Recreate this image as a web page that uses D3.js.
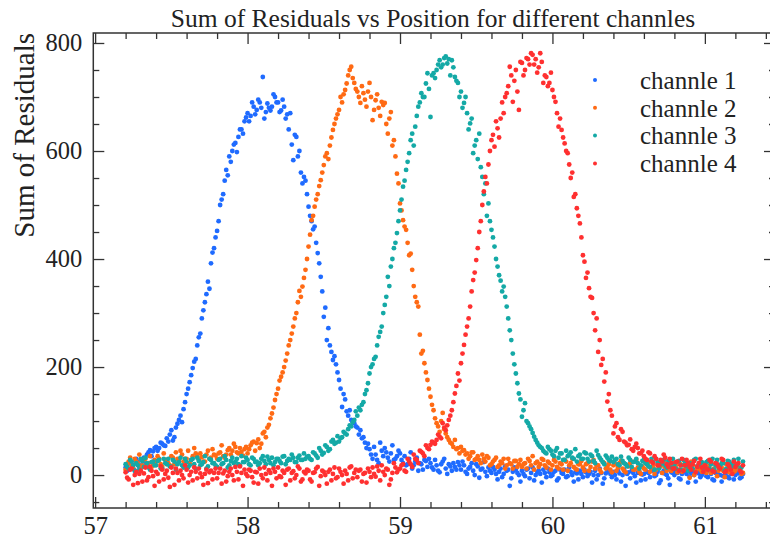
<!DOCTYPE html>
<html><head><meta charset="utf-8">
<script src="https://cdn.jsdelivr.net/npm/d3@7"></script>
<style>
body{margin:0;background:#fff}
text{font-family:"Liberation Serif","Times New Roman",serif;fill:#222}
</style>
</head><body><svg id="c" width="770" height="540"></svg>
<script>
// ---- data ----
// two interleaved sample sets per channel: set A starts at 57.20, set B at 57.21, both every 0.02
const xStartA = 57.20, xStartB = 57.21, xStep = 0.02;
const seriesNames = ["channle 1", "channle 2", "channle 3", "channle 4"];
const seriesColors = ["#1f6bff", "#ff6a14", "#14a9a6", "#ff3030"];
const xTicks = [57, 58, 59, 60, 61];
const yTicks = [0, 200, 400, 600, 800];

const channle1A = [
14,10,20,8,25,18,32,38,46,44,
52,50,58,54,62,83,70,95,110,122,
150,172,198,215,255,290,320,358,392,420,
452,500,520,565,590,600,615,626,640,655,
670,665,682,676,690,737,672,680,682,700,
690,675,682,668,670,583,626,600,540,545,
497,470,460,411,367,293,250,240,213,205,
176,126,140,110,102,96,88,83,70,50,
48,30,38,22,45,50,32,40,28,35,
40,22,18,30,12,25,8,20,28,15,
22,10,18,5,25,12,20,8,15,24,
10,18,2,15,8,20,-5,12,6,14,
4,10,-8,12,2,8,-20,6,10,0,
8,-2,12,4,-10,6,2,10,-4,5,
0,8,-6,4,10,-2,6,-12,3,8,
-4,5,2,-14,8,0,4,-6,10,2,
6,-8,3,0,-20,5,8,-2,4,-10,
2,6,-4,8,0,-15,4,2,-6,5,
0,4,-8,6,2,-3,8,-12,3,0,
5,-4,2,-10,6,0,-2,4,-6,2,
0,3,-4];
const channle1B = [
8,22,12,30,15,26,20,42,35,50,
45,60,55,68,75,64,88,102,98,135,
160,185,210,240,262,305,335,345,412,440,
470,510,545,555,580,612,598,640,632,662,
655,690,668,695,680,660,688,675,705,690,
672,695,660,640,612,630,590,560,552,520,
480,455,430,392,340,310,272,228,220,190,
160,150,118,120,98,90,75,68,60,58,
38,52,28,60,35,42,25,55,30,45,
28,35,20,42,18,32,22,10,26,30,
14,28,8,20,30,2,16,22,10,18,
25,6,12,22,0,16,10,24,-2,8,
15,2,6,-4,16,10,-6,14,4,-12,
2,10,-6,14,0,8,-14,4,12,-2,
6,-10,10,2,-4,14,0,5,-8,2,
10,-2,6,0,-8,12,-16,3,7,-4,
0,8,-12,10,2,-6,4,-14,6,1,
-8,4,10,-2,6,-10,8,0,-18,4,
6,-6,2,10,-14,4,0,6,-4,8,
-2,8,-8,4,0,-12,6,-4,2,-8,
4,-6,2];
const channle2A = [
10,25,18,30,22,15,28,20,35,18,
25,30,15,28,22,35,20,30,45,25,
30,22,35,40,28,33,25,45,32,38,
30,42,35,38,50,45,52,40,43,48,
40,55,62,59,50,77,70,93,114,139,
160,182,200,225,250,275,300,341,349,380,
423,472,497,520,546,574,596,610,639,660,
676,690,713,740,756,726,710,689,707,682,
726,657,694,680,691,689,632,672,620,558,
503,472,454,407,380,330,312,225,207,176,
145,120,96,80,115,77,65,58,65,50,
52,46,40,35,42,30,28,38,25,32,
20,28,15,25,30,18,22,12,26,20,
15,22,30,18,10,25,20,28,14,22,
18,25,12,20,28,8,22,15,10,20,
14,20,8,25,12,18,5,22,15,10,
18,8,22,12,5,16,25,10,14,2,
12,20,6,15,10,22,4,14,18,8,
15,5,20,10,12,-5,18,8,14,6,
10,16,4,12,-2,15,8,20,5,12,
8,14,2];
const channle2B = [
20,32,12,25,38,18,30,22,15,28,
35,20,40,28,18,32,42,26,38,30,
45,28,50,35,40,25,38,30,48,36,
40,55,32,46,38,58,42,50,36,52,
48,60,45,66,58,80,88,105,125,150,
175,190,212,240,262,290,320,330,365,400,
445,480,510,535,560,590,585,625,650,668,
700,705,725,750,735,715,700,720,695,710,
700,676,705,665,685,650,660,610,590,540,
490,460,430,410,350,320,260,230,190,160,
130,105,90,100,85,70,60,52,48,40,
45,38,30,42,28,35,22,30,35,18,
25,32,18,22,12,30,20,26,15,28,
20,12,26,35,22,15,30,18,25,10,
28,15,22,10,25,18,30,12,20,26,
8,22,15,28,18,10,24,12,20,5,
20,14,26,8,18,22,10,28,6,16,
10,24,14,2,20,16,26,8,12,22,
18,10,6,22,14,25,0,16,10,20,
4,18,10,22,8,14,-4,12,20,6,
16,10,4];
const channle3A = [
20,12,25,8,18,30,15,22,10,25,
18,28,12,22,30,15,25,20,32,14,
24,18,30,12,26,20,35,16,28,22,
15,30,22,28,18,32,25,20,35,24,
28,18,30,25,22,35,20,28,32,24,
30,22,35,26,28,32,24,36,28,30,
35,28,40,32,45,41,52,48,65,60,
62,70,77,85,90,102,110,120,135,157,
188,205,219,256,275,315,367,386,420,448,
490,534,565,596,632,645,682,707,700,744,
663,744,750,768,760,775,770,768,737,726,
710,689,670,651,596,620,632,552,540,503,
454,423,386,360,349,312,268,225,188,151,
108,133,96,85,71,60,52,45,40,48,
38,45,32,40,28,35,42,30,25,38,
30,40,25,35,22,37,28,20,32,26,
24,30,18,26,20,32,15,25,22,18,
28,20,15,24,30,12,22,18,26,14,
20,25,10,28,16,22,12,30,18,24,
15,26,20,10,28,18,22,12,25,16,
20,30,14];
const channle3B = [
15,28,18,22,10,26,32,14,24,18,
26,12,30,20,16,28,10,24,18,30,
14,28,20,32,18,24,12,30,22,18,
28,20,35,14,26,22,30,18,24,32,
20,32,24,18,30,26,34,22,18,30,
26,34,20,30,38,24,32,28,40,34,
30,42,36,50,38,55,45,62,58,72,
68,80,75,92,98,118,125,130,150,170,
200,215,240,265,300,330,350,400,430,470,
510,545,580,620,610,665,690,700,725,715,
740,735,760,755,772,762,740,755,730,700,
680,700,640,660,610,585,570,520,480,470,
440,400,370,340,330,290,250,205,170,140,
120,100,90,78,65,55,50,42,52,45,
35,50,40,28,45,38,32,48,35,30,
42,30,38,26,45,32,24,36,28,34,
28,20,34,22,16,28,24,30,12,26,
22,16,30,10,24,20,28,14,22,30,
12,26,18,24,8,20,28,16,22,14,
24,12,30,18,14,22,8,26,20,28,
18,10,25];
const channle4A = [
5,-8,12,0,-15,8,3,-10,15,-2,
6,-12,10,2,-5,14,-18,4,8,-6,
10,0,-10,6,12,-4,2,-15,8,4,
-6,12,3,-12,6,0,15,-8,4,10,
-2,8,-14,5,12,-6,2,9,-20,6,
14,-4,4,10,-10,7,0,12,-8,3,
8,-12,5,15,-2,6,-16,10,2,-6,
12,0,8,-10,16,4,-4,10,2,-14,
6,14,-3,8,18,0,10,-8,22,5,
12,20,6,25,15,30,22,43,35,50,
56,60,65,71,96,83,102,120,151,188,
207,241,275,312,361,398,450,500,552,575,
620,608,642,660,670,707,756,691,750,676,
763,750,770,781,760,745,781,726,737,726,
713,691,645,639,614,596,550,515,494,466,
407,365,346,328,268,228,204,173,136,120,
77,96,65,80,60,56,48,52,50,40,
35,28,40,22,30,18,25,32,15,22,
12,25,18,8,28,15,20,5,22,14,
18,10,25,6,20,12,28,8,16,2,
15,22,5];
const channle4B = [
-5,10,-18,6,2,-12,14,-4,8,-20,
2,16,-8,8,-22,4,12,-10,0,18,
-14,6,14,-6,3,-18,10,5,-8,12,
4,-16,8,-2,12,-10,6,16,-20,2,
10,-4,6,-16,0,14,-10,4,12,-6,
-2,8,-18,12,4,-6,16,-12,6,10,
-8,4,12,-20,8,0,6,-10,14,-4,
6,-16,2,14,-6,10,8,-12,4,12,
-4,2,16,-10,6,12,-18,4,14,10,
18,8,30,20,38,28,45,40,55,48,
62,58,75,68,88,92,110,135,165,175,
225,260,290,340,375,420,470,525,540,600,
630,655,625,690,700,720,740,730,710,765,
740,772,760,778,770,755,765,740,720,745,
700,670,660,625,600,575,560,520,480,440,
395,375,330,300,290,250,215,190,150,110,
90,70,85,62,55,66,45,58,40,45,
30,42,25,35,18,28,38,20,30,12,
24,8,30,18,22,10,26,15,30,6,
12,28,8,22,15,30,5,20,10,25,
20,8,18];
const allSeries = [
  [channle1A, channle1B], [channle2A, channle2B], [channle3A, channle3B], [channle4A, channle4B]
];

// ---- chart ----
const svg = d3.select("#c");
const L = 93.3, R = 775, T = 33, B = 508;
const x = d3.scaleLinear().domain([56.988, 61.46]).range([L, R]);
const y = d3.scaleLinear().domain([-61, 818.5]).range([B, T]);

const minorX = d3.range(57, 61.45, 0.2).map(v => Math.round(v * 5) / 5).filter(v => !xTicks.includes(v));
const minorY = d3.range(-50, 819, 50).filter(v => !yTicks.includes(v));

const tickCol = "#333";
function style(g) {
  g.select(".domain").remove();
  g.selectAll(".tick line").attr("stroke", tickCol).attr("stroke-width", 1.3);
  g.selectAll(".tick text").style("font-size", "24.5px").attr("fill", "#222");
}

// bottom
svg.append("g").attr("transform", `translate(0,${B})`)
  .call(d3.axisBottom(x).tickValues(xTicks).tickSize(-11).tickPadding(9).tickFormat(d3.format("d"))).call(style);
svg.append("g").attr("transform", `translate(0,${B})`)
  .call(d3.axisBottom(x).tickValues(minorX).tickSize(-6).tickFormat("")).call(style);
// top
svg.append("g").attr("transform", `translate(0,${T})`)
  .call(d3.axisTop(x).tickValues(xTicks).tickSize(-11).tickFormat("")).call(style);
svg.append("g").attr("transform", `translate(0,${T})`)
  .call(d3.axisTop(x).tickValues(minorX).tickSize(-6).tickFormat("")).call(style);
// left
svg.append("g").attr("transform", `translate(${L},0)`)
  .call(d3.axisLeft(y).tickValues(yTicks).tickSize(-11).tickPadding(11).tickFormat(d3.format("d"))).call(style);
svg.append("g").attr("transform", `translate(${L},0)`)
  .call(d3.axisLeft(y).tickValues(minorY).tickSize(-6).tickFormat("")).call(style);
// right
svg.append("g").attr("transform", `translate(${R},0)`)
  .call(d3.axisRight(y).tickValues(yTicks).tickSize(-11).tickFormat("")).call(style);
svg.append("g").attr("transform", `translate(${R},0)`)
  .call(d3.axisRight(y).tickValues(minorY).tickSize(-6).tickFormat("")).call(style);

// frame
svg.append("rect").attr("x", L).attr("y", T).attr("width", R - L).attr("height", B - T)
  .attr("fill", "none").attr("stroke", "#333").attr("stroke-width", 1.5);

// points
allSeries.forEach((sets, s) => {
  const g = svg.append("g");
  [[sets[0], xStartA], [sets[1], xStartB]].forEach(([vals, x0]) => {
    g.append("g").selectAll("circle").data(vals).join("circle")
      .attr("cx", (d, i) => x(x0 + i * xStep))
      .attr("cy", d => y(d))
      .attr("r", 2.4)
      .attr("fill", seriesColors[s]);
  });
});

// title
svg.append("text").attr("x", 433).attr("y", 27).attr("text-anchor", "middle")
  .style("font-size", "25.5px").text("Sum of Residuals vs Position for different channles");
// y label
svg.append("text").attr("transform", `translate(34,${T}) rotate(-90)`).attr("text-anchor", "end")
  .style("font-size", "29px").text("Sum of Residuals");

// legend
const lg = svg.append("g");
seriesNames.forEach((n, i) => {
  const yy = 80 + i * 27.8;
  lg.append("circle").attr("cx", 595).attr("cy", yy).attr("r", 2).attr("fill", seriesColors[i]);
  lg.append("text").attr("x", 640).attr("y", yy).attr("dy", "0.35em").style("font-size", "25px").text(n);
});
</script></body></html>
